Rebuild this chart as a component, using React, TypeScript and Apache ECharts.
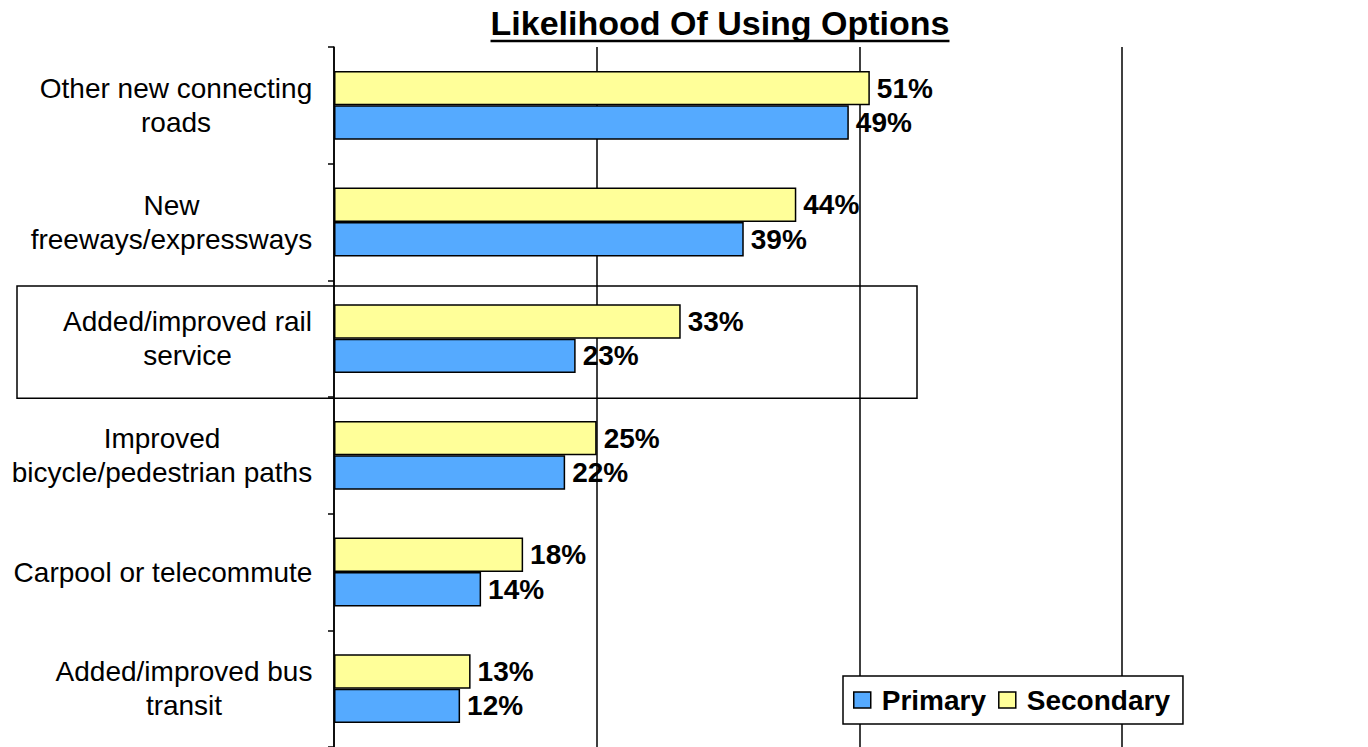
import React, { useEffect, useRef } from "react";
import * as echarts from "echarts";

const categories = [
  "Other new connecting roads",
  "New freeways/expressways",
  "Added/improved rail service",
  "Improved bicycle/pedestrian paths",
  "Carpool or telecommute",
  "Added/improved bus transit",
];
const categoryLines = [
  ["Other new connecting", "roads"],
  ["New", "freeways/expressways"],
  ["Added/improved rail", "service"],
  ["Improved", "bicycle/pedestrian paths"],
  ["Carpool or telecommute"],
  ["Added/improved bus", "transit"],
];
const primary = [49, 39, 23, 22, 14, 12];
const secondary = [51, 44, 33, 25, 18, 13];
const xMin = 0;
const xMax = 75;
const xInterval = 25;
const highlightIndex = 2;
const titleText = "Likelihood Of Using Options";

const FONT = '"Liberation Sans", Arial, Helvetica, sans-serif';

function measure(text: string, font: string): number {
  const c = document.createElement("canvas").getContext("2d");
  if (!c) return text.length * 14;
  c.font = font;
  return c.measureText(text).width;
}

export default function App() {
  const ref = useRef<HTMLDivElement>(null);
  useEffect(() => {
    if (!ref.current) return;
    const chart = echarts.init(ref.current, undefined, { renderer: "svg" });

    const rich: Record<string, any> = {};
    categoryLines.forEach((lines, i) => {
      const w = Math.max(...lines.map((l) => measure(l, `28px ${FONT}`)));
      rich["c" + i] = {
        width: Math.ceil(w) + 1,
        align: "center",
        fontSize: 28,
        lineHeight: 34,
        fontFamily: FONT,
        color: "#000",
      };
    });

    const gridLeft = 334;
    const gridTop = 47;
    const gridWidth = 788;
    const gridHeight = 704;

    chart.setOption({
      animation: false,
      backgroundColor: "#fff",
      grid: { left: gridLeft, top: gridTop, width: gridWidth, height: gridHeight, containLabel: false },
      legend: {
        data: ["Primary", "Secondary"],
        left: 843,
        top: 676,
        icon: "rect",
        itemWidth: 17,
        itemHeight: 16,
        itemGap: 12,
        padding: [4, 13, 4, 10],
        borderColor: "#000",
        borderWidth: 1.5,
        backgroundColor: "#fff",
        itemStyle: { borderColor: "#000", borderWidth: 1.5 },
        textStyle: {
          fontFamily: FONT,
          fontSize: 28,
          fontWeight: "bold",
          color: "#000",
          lineHeight: 40,
          padding: [0, 0, 0, 6],
        },
      },
      xAxis: {
        type: "value",
        min: xMin,
        max: xMax,
        interval: xInterval,
        axisLabel: { show: false },
        axisLine: { show: false },
        axisTick: { show: false },
        splitLine: { show: true, lineStyle: { color: "#000", width: 1.5 } },
      },
      yAxis: {
        type: "category",
        inverse: true,
        data: categories,
        axisLine: { show: true, lineStyle: { color: "#000", width: 1.5 } },
        axisTick: { show: true, length: 6, inside: false, lineStyle: { color: "#000", width: 1.5 } },
        axisLabel: {
          margin: 21,
          align: "right",
          formatter: (_v: string, idx: number) =>
            categoryLines[idx].map((l) => `{c${idx}|${l}}`).join("\n"),
          rich,
        },
      },
      series: [
        {
          name: "Secondary",
          type: "bar",
          data: secondary,
          barGap: "0%",
          barCategoryGap: "41%",
          itemStyle: { color: "#FFFF99", borderColor: "#000", borderWidth: 1.5 },
          label: {
            show: true,
            position: "right",
            distance: 7,
            formatter: "{c}%",
            fontFamily: FONT,
            fontSize: 28,
            fontWeight: "bold",
            color: "#000",
          },
        },
        {
          name: "Primary",
          type: "bar",
          data: primary,
          barGap: "0%",
          barCategoryGap: "41%",
          itemStyle: { color: "#55AAFF", borderColor: "#000", borderWidth: 1.5 },
          label: {
            show: true,
            position: "right",
            distance: 7,
            formatter: "{c}%",
            fontFamily: FONT,
            fontSize: 28,
            fontWeight: "bold",
            color: "#000",
          },
        },
      ],
    });

    // Annotation graphics (title with underline, highlight box)
    const titleFont = `bold 34px ${FONT}`;
    const tw = measure(titleText, titleFont);
    const titleCx = 720;
    const yc = chart.convertToPixel({ yAxisIndex: 0 }, categories[highlightIndex]) as number;
    const band = gridHeight / categories.length;
    const boxTop = yc - band / 2 + 6;
    const boxBottom = yc + band / 2 + 1;

    chart.setOption({
      graphic: [
        {
          type: "text",
          id: "title",
          x: titleCx,
          y: 23,
          style: {
            text: titleText,
            font: titleFont,
            fill: "#000",
            textAlign: "center",
            textVerticalAlign: "middle",
          },
        },
        {
          type: "line",
          id: "underline",
          shape: { x1: titleCx - tw / 2, y1: 41, x2: titleCx + tw / 2, y2: 41 },
          style: { stroke: "#000", lineWidth: 2.5 },
        },
        {
          type: "rect",
          id: "highlight",
          shape: { x: 17, y: boxTop, width: 917 - 17, height: boxBottom - boxTop },
          style: { fill: "none", stroke: "#000", lineWidth: 1.5 },
          z: 10,
        },
      ],
    });

    return () => chart.dispose();
  }, []);
  return (
    <div
      ref={ref}
      style={{ position: "absolute", left: 0, top: 0, width: 1368, height: 747 }}
    />
  );
}
